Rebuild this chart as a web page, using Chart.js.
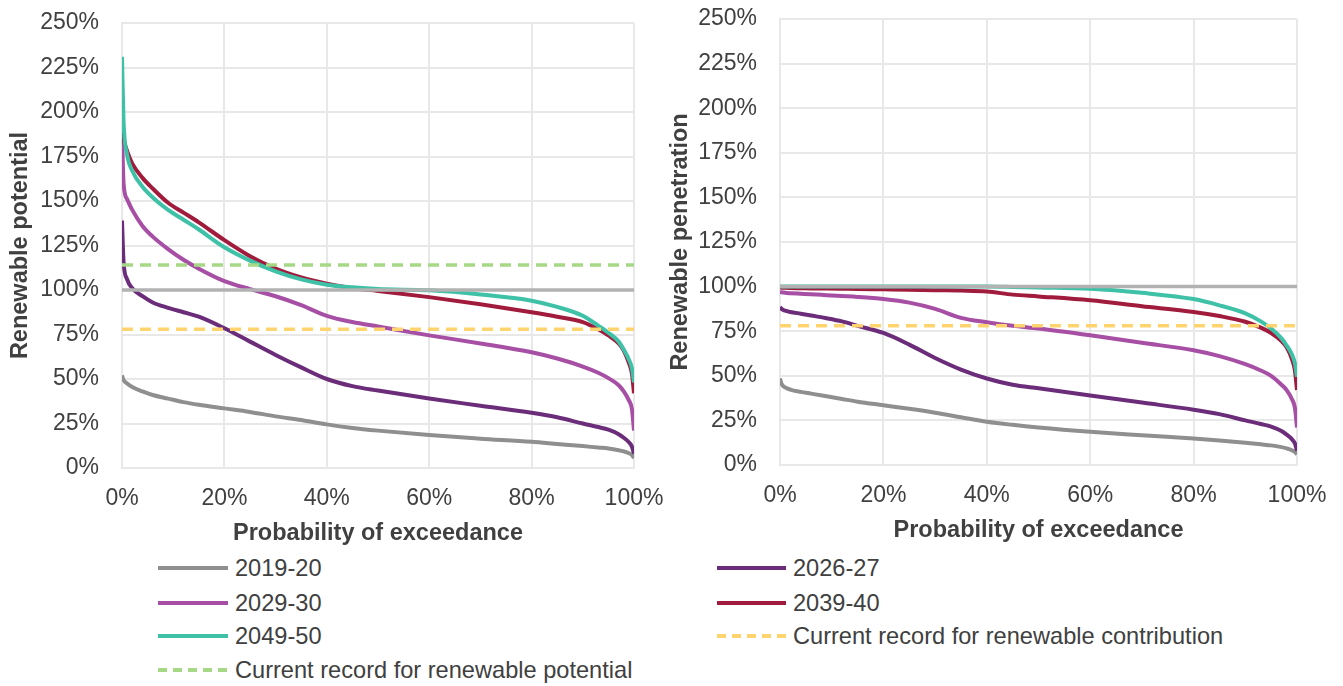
<!DOCTYPE html>
<html>
<head>
<meta charset="utf-8">
<script src="https://cdn.jsdelivr.net/npm/chart.js@4"></script>
<style>
  html, body { margin: 0; padding: 0; background: #ffffff; }
  body { width: 1343px; height: 686px; position: relative; overflow: hidden;
         font-family: "Liberation Sans", Arial, sans-serif; color: #404040; }
  .panel { position: absolute; }
  .legend-item { position: absolute; height: 30px; line-height: 30px; font-size: 23.6px; white-space: nowrap; }
  .legend-item svg { position: absolute; top: 0; }
  .legend-item span { position: absolute; top: 0; }
</style>
</head>
<body>
<div class="panel" id="leftPanel" style="left:0px; top:0px; width:682px; height:550px;"><canvas id="potentialChart"></canvas></div>
<div class="panel" id="rightPanel" style="left:660px; top:-3px; width:683px; height:553px;"><canvas id="penetrationChart"></canvas></div>
<div id="legend"></div>

<script>
// Probability of exceedance (%) at which each duration-curve value is given
const exceedance = [0, 0.3, 1, 2, 4, 6, 9, 12, 15, 20, 25, 30, 35, 40, 45, 50, 60, 70, 80, 85, 90, 93, 95, 97, 98, 99, 99.6, 100];

// Renewable potential (%)
const potential2019 = [52, 49.5, 47.5, 45.5, 43, 41, 39, 37, 35.5, 33.5, 31.5, 29, 27, 24.5, 22.5, 21, 18.5, 16.5, 14.7, 13.5, 12.3, 11.5, 11, 10, 9.3, 8.3, 7.3, 5.6];
const potential2026 = [139, 116, 106, 101, 96.5, 93, 90, 87.5, 85, 78.5, 71, 63.5, 56.5, 50, 46, 43.5, 39, 35, 31, 28.5, 25, 23, 21.5, 19, 17, 14.5, 12, 8];
const potential2029 = [190, 160, 151, 145, 136, 130, 123, 117, 112, 105, 100.5, 96.5, 91.5, 85.5, 82, 79.5, 74.5, 70, 65, 61.5, 57, 53.5, 50.5, 46.5, 43, 38, 33, 21];
const potential2039 = [192, 185, 178, 171, 163, 157, 149, 143.5, 138, 128, 119, 112, 107, 103.5, 101, 99.5, 96, 92, 87.5, 85, 82, 78, 74.5, 70, 66, 59, 53, 42];
const potential2049 = [231, 195, 176, 167, 158, 152, 145, 139.5, 134, 124, 116.5, 110.5, 106, 103, 101.5, 100.5, 99.8, 97.5, 94, 90.5, 85.5, 80, 76, 71, 66.5, 61, 56, 48];

// Renewable penetration (%)
const penetration2019 = [48.5, 45.5, 43.5, 42.3, 41, 40, 38.5, 37, 35.5, 33.5, 31.5, 29.3, 26.8, 24.3, 22.5, 21, 18.6, 16.7, 14.9, 13.8, 12.5, 11.6, 11, 10, 9.3, 8.3, 7.3, 6];
const penetration2026 = [88.5, 87.5, 86.5, 85.8, 84.8, 83.8, 82.3, 80.5, 78, 74, 67.5, 60, 53.5, 48.5, 45, 43, 39, 35, 31, 28.5, 25, 23, 21.5, 19, 17, 14.5, 12, 8];
const penetration2029 = [97, 96.8, 96.5, 96.3, 96, 95.7, 95.2, 94.7, 94.2, 93, 91, 87.5, 82.5, 80, 78, 76.5, 72.7, 68.5, 64.3, 61, 56.5, 53, 50, 45, 42, 37, 32, 21];
const penetration2039 = [99.5, 99.4, 99.3, 99.2, 99.1, 99, 98.9, 98.8, 98.7, 98.5, 98.3, 98, 97.8, 97.3, 95.5, 94.5, 92.3, 89, 85.8, 83.5, 80.3, 77, 74, 69.5, 66, 59.5, 53, 42];
const penetration2049 = [100, 100, 100, 100, 100, 100, 100, 100, 100, 100, 100, 100, 100, 100, 99.8, 99.5, 98.8, 96.5, 93, 89.5, 85, 80.5, 76.5, 71, 67, 62, 57, 49.5];

// Reference levels (%)
const fullLevel = 100;
const recordPotential = 114;
const recordContribution = 78;

// Axis ticks
const xTicks = [0, 20, 40, 60, 80, 100];
const yTicks = [0, 25, 50, 75, 100, 125, 150, 175, 200, 225, 250];

const yearLabels = ['2019-20', '2026-27', '2029-30', '2039-40', '2049-50'];
const recordLabels = ['Current record for renewable potential', 'Current record for renewable contribution'];

const colours = {
  '2019-20': '#8f8f8f',
  '2026-27': '#6b2c7a',
  '2029-30': '#a64fa5',
  '2039-40': '#a11b3d',
  '2049-50': '#3fc1a7',
  full: '#b2b2b2',
  potential: '#a6d886',
  contribution: '#ffd36e'
};

const FONT = '"Liberation Sans", Arial, sans-serif';
const TEXT = '#404040';
const GRID = '#e8e8e8';

function toPoints(values) {
  return exceedance.map((p, i) => ({ x: p, y: values[i] }));
}
function flat(level) {
  return [{ x: xTicks[0], y: level }, { x: xTicks[xTicks.length - 1], y: level }];
}
function seriesSet(label, values) {
  return {
    label, data: toPoints(values), borderColor: colours[label],
    borderWidth: 4, pointRadius: 0, cubicInterpolationMode: 'monotone', fill: false
  };
}
function levelSet(label, level, colour, dashed) {
  return {
    label, data: flat(level), borderColor: colour, borderWidth: 3.5,
    borderDash: dashed ? [11, 7] : [], pointRadius: 0, fill: false
  };
}

// Fixed axis boxes so the plot area is placed by the layout padding alone
function fixBox(size, key) {
  return s => {
    s[key] = size;
    s.paddingTop = 0; s.paddingBottom = 0; s.paddingLeft = 0; s.paddingRight = 0;
  };
}

function makeChart(canvasId, yTitle, datasets, geom) {
  return new Chart(document.getElementById(canvasId), {
    type: 'line',
    data: { datasets },
    options: {
      responsive: true,
      maintainAspectRatio: false,
      animation: false,
      events: [],
      layout: { padding: { left: 0, top: geom.top, right: geom.right, bottom: 0 } },
      plugins: { legend: { display: false }, tooltip: { enabled: false } },
      scales: {
        x: {
          type: 'linear', min: xTicks[0], max: xTicks[xTicks.length - 1],
          afterBuildTicks: s => { s.ticks = xTicks.map(v => ({ value: v })); },
          afterFit: fixBox(geom.xHeight, 'height'),
          grid: { color: GRID, lineWidth: 2, drawTicks: false },
          border: { color: GRID, width: 2 },
          ticks: { padding: 17, color: TEXT, font: { family: FONT, size: 23 }, callback: v => v + '%', maxRotation: 0 },
          title: { display: true, text: 'Probability of exceedance', color: TEXT,
                   font: { family: FONT, size: 23.5, weight: 'bold' }, padding: { top: 0, bottom: geom.xTitlePad } }
        },
        y: {
          type: 'linear', min: yTicks[0], max: yTicks[yTicks.length - 1],
          afterBuildTicks: s => { s.ticks = yTicks.map(v => ({ value: v })); },
          afterFit: fixBox(geom.yWidth, 'width'),
          grid: { color: GRID, lineWidth: 2, drawTicks: false },
          border: { color: GRID, width: 2 },
          ticks: { padding: 23, color: TEXT, font: { family: FONT, size: 23 }, callback: v => v + '%' },
          title: { display: true, text: yTitle, color: TEXT,
                   font: { family: FONT, size: 23.5, weight: 'bold' }, padding: { top: geom.yTitlePad, bottom: 0 } }
        }
      }
    }
  });
}

// Earlier datasets are painted on top
makeChart('potentialChart', 'Renewable potential', [
  levelSet('100%', fullLevel, colours.full, false),
  levelSet(recordLabels[0], recordPotential, colours.potential, true),
  levelSet(recordLabels[1], recordContribution, colours.contribution, true),
  seriesSet('2049-50', potential2049),
  seriesSet('2039-40', potential2039),
  seriesSet('2029-30', potential2029),
  seriesSet('2026-27', potential2026),
  seriesSet('2019-20', potential2019)
], { top: 23, right: 48, xHeight: 82, yWidth: 122, xTitlePad: 2, yTitlePad: 6 });

makeChart('penetrationChart', 'Renewable penetration', [
  levelSet('100%', fullLevel, colours.full, false),
  levelSet(recordLabels[1], recordContribution, colours.contribution, true),
  seriesSet('2049-50', penetration2049),
  seriesSet('2039-40', penetration2039),
  seriesSet('2029-30', penetration2029),
  seriesSet('2026-27', penetration2026),
  seriesSet('2019-20', penetration2019)
], { top: 22, right: 46, xHeight: 85, yWidth: 120, xTitlePad: 5, yTitlePad: 6 });

// Shared legend below both panels, two columns
const legendEntries = [
  { label: yearLabels[0], colour: colours['2019-20'], dashed: false, col: 0, row: 0 },
  { label: yearLabels[1], colour: colours['2026-27'], dashed: false, col: 1, row: 0 },
  { label: yearLabels[2], colour: colours['2029-30'], dashed: false, col: 0, row: 1 },
  { label: yearLabels[3], colour: colours['2039-40'], dashed: false, col: 1, row: 1 },
  { label: yearLabels[4], colour: colours['2049-50'], dashed: false, col: 0, row: 2 },
  { label: recordLabels[1], colour: colours.contribution, dashed: true, col: 1, row: 2 },
  { label: recordLabels[0], colour: colours.potential, dashed: true, col: 0, row: 3 }
];
const columnX = [{ line: 158, text: 235 }, { line: 717, text: 793 }];
const rowY = [568, 603, 636, 670];
const legend = document.getElementById('legend');
legendEntries.forEach(e => {
  const item = document.createElement('div');
  item.className = 'legend-item';
  const col = columnX[e.col];
  item.style.left = col.line + 'px';
  item.style.top = (rowY[e.row] - 15) + 'px';
  const len = col.text - col.line - 7;
  const dash = e.dashed ? ' stroke-dasharray="9 6"' : '';
  item.innerHTML =
    '<svg width="' + len + '" height="30"><line x1="0" y1="15" x2="' + len + '" y2="15" stroke="' + e.colour +
    '" stroke-width="4"' + dash + '/></svg><span style="left:' + (col.text - col.line) + 'px">' + e.label + '</span>';
  legend.appendChild(item);
});
</script>
</body>
</html>
